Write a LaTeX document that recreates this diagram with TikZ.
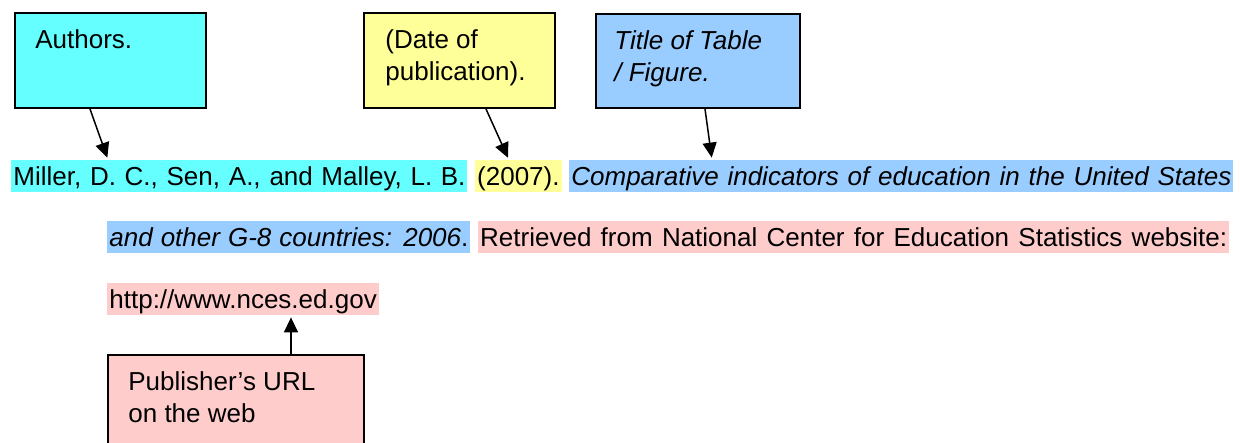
\documentclass[tikz,border=0pt]{standalone}
\usepackage{fontspec}
\setmainfont{Liberation Sans}
\usepackage{xcolor}
\usepackage{tikz}
\usetikzlibrary{arrows.meta,positioning}

\definecolor{AuthorCyan}{HTML}{66FFFF}
\definecolor{DateYellow}{HTML}{FFFF99}
\definecolor{TitleBlue}{HTML}{99CCFF}
\definecolor{UrlPink}{HTML}{FFCCCC}

% a justified line of the reference: spaces stretched to a set width
\newcommand{\fitline}[2]{\hbox to #1{#2}}

\begin{document}
\begin{tikzpicture}[x=0.5pt, y=-0.5pt, line/.style={-{Triangle[length=7.5pt,width=7pt]},shorten >=1pt,draw=black, line width=0.75pt}, tagbox/.style={draw=black, line width=1pt, anchor=north west, inner sep=0, minimum height=47.5pt}, boxtext/.style={anchor=north west, align=left, inner sep=0, node font=\fontsize{13}{15.75}\selectfont}, reftext/.style={anchor=base west, inner xsep=1pt, inner ysep=0pt, text height=12.5pt, text depth=3.5pt}, node font=\fontsize{13}{15}\selectfont]
  \useasboundingbox (0,0) rectangle (1240,443);

  \node[tagbox,fill=AuthorCyan, minimum width=95.5pt]  (boxAuthors)   at (14,12)  {};
  \node[tagbox,fill=DateYellow, minimum width=95.5pt]  (boxDate)      at (363,12) {};
  \node[tagbox,fill=TitleBlue,  minimum width=102pt, minimum height=47pt] (boxTitle) at (595,13) {};
  \node[tagbox,fill=UrlPink,    minimum width=128pt, minimum height=50pt] (boxPublisher) at (107,354) {};

  \node[boxtext]               (textAuthors)   at ([xshift=10.5pt,yshift=-8.7pt]boxAuthors.north west)   {Authors.};
  \node[boxtext]               (textDate)      at ([xshift=11pt,yshift=-8.7pt]boxDate.north west)        {(Date of\\publication).};
  \node[boxtext,font=\itshape] (textTitle)     at ([xshift=9.5pt,yshift=-8.7pt]boxTitle.north west)      {Title of Table\\/ Figure.};
  \node[boxtext]               (textPublisher) at ([xshift=10.5pt,yshift=-8.7pt]boxPublisher.north west) {Publisher’s URL\\on the web};

  \node[reftext,fill=AuthorCyan]                              (refAuthors)  at (11,185)  {\fitline{226pt}{Miller, D. C., Sen, A., and Malley, L. B.}};
  \node[reftext,fill=DateYellow, base right=3.5pt of refAuthors]            (refDate)     {(2007).};
  \node[reftext,fill=TitleBlue, base right=3.5pt of refDate, font=\itshape] (refTitle)    {\fitline{330pt}{Comparative indicators of education in the United States}};
  \node[reftext,fill=TitleBlue]                               (refTitleEnd) at (107,246) {\fitline{179.5pt}{\textit{and other G-8 countries: 2006}.}};
  \node[reftext,fill=UrlPink, base right=3.5pt of refTitleEnd]              (refSource)   {\fitline{373.5pt}{Retrieved from National Center for Education Statistics website:}};
  \node[reftext,fill=UrlPink]                                 (refUrl)      at (107,308) {http://www.nces.ed.gov};

  \draw [line] ([xshift=38pt]boxAuthors.south west)   -- ([xshift=48.5pt]refAuthors.north west);
  \draw [line] ([xshift=61.5pt]boxDate.south west)    -- ([xshift=17pt]refDate.north west);
  \draw [line] ([xshift=55pt]boxTitle.south west)     -- ([xshift=71.5pt]refTitle.north west);
  \draw [line] ([xshift=92pt]boxPublisher.north west) -- ([xshift=92pt]refUrl.south west);
\end{tikzpicture}
\end{document}
